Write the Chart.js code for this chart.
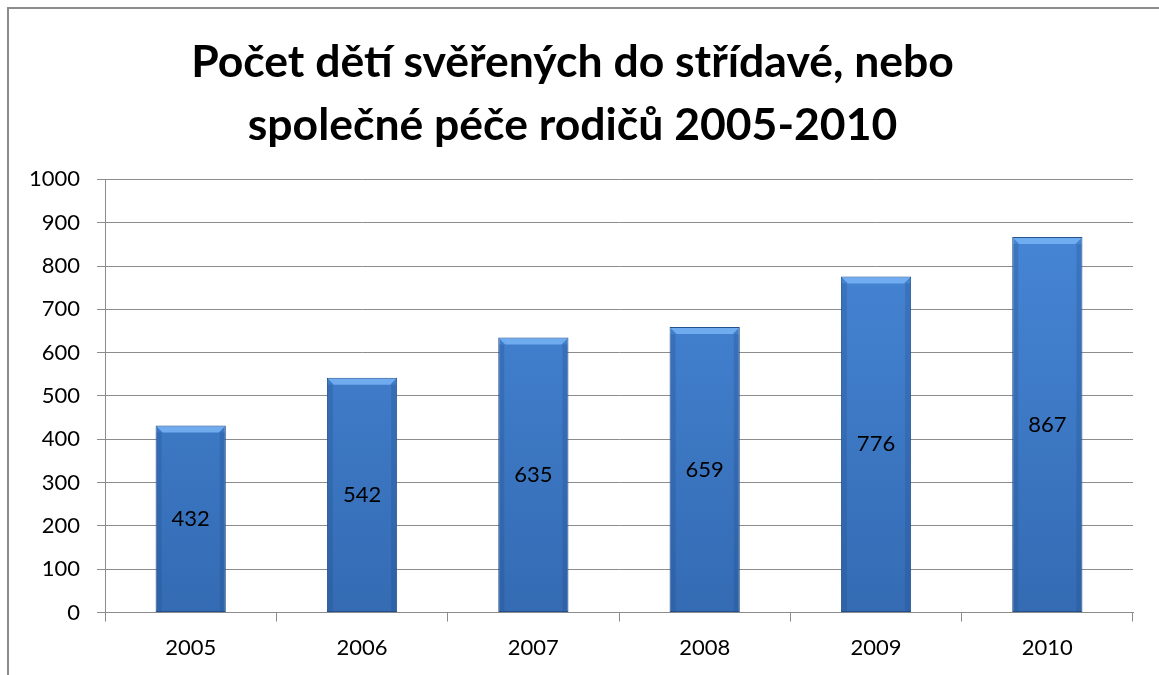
<!DOCTYPE html>
<html>
<head>
<meta charset="utf-8">
<script src="https://cdn.jsdelivr.net/npm/chart.js@4"></script>
<style>
    html, body { margin: 0; padding: 0; background: #fff; }
    #wrap { position: absolute; left: 0; top: 0; width: 1159px; height: 675px; }
    #frame { position: absolute; left: 7px; top: 7px; right: 0; bottom: 0;
             border-left: 2px solid #8c8c8c; border-top: 2px solid #8c8c8c; }
    canvas { position: absolute; left: 0; top: 0; }
</style>
</head>
<body>
<div id="wrap">
    <div id="frame"></div>
    <canvas id="chart" width="1159" height="675"></canvas>
</div>
<script>
// data
var years = ['2005', '2006', '2007', '2008', '2009', '2010'];
var counts = [432, 542, 635, 659, 776, 867];
var titleLines = ['Počet dětí svěřených do střídavé, nebo', 'společné péče rodičů 2005-2010'];

var FONT = 'Lato, "Open Sans", sans-serif';

//数值标签 + 棱角高光
var barDecor = {
    id: 'barDecor',
    afterDatasetsDraw: function (chart) {
        var ctx = chart.ctx;
        var meta = chart.getDatasetMeta(0);
        meta.data.forEach(function (bar, i) {
            var left = bar.x - bar.width / 2, right = bar.x + bar.width / 2;
            var top = bar.y, bottom = bar.base;
            var b = 7;
            ctx.save();
            // top bevel
            ctx.fillStyle = 'rgba(120,180,245,0.85)';
            ctx.beginPath();
            ctx.moveTo(left + 1, top + 1);
            ctx.lineTo(right - 1, top + 1);
            ctx.lineTo(right - b, top + b);
            ctx.lineTo(left + b, top + b);
            ctx.closePath();
            ctx.fill();
            // side edges
            ctx.fillStyle = 'rgba(30,70,130,0.25)';
            ctx.fillRect(left + 1, top + b, 5, bottom - top - b);
            ctx.fillRect(right - 6, top + b, 5, bottom - top - b);
            // value
            ctx.fillStyle = '#000';
            ctx.font = '22px ' + FONT;
            ctx.textAlign = 'center';
            ctx.textBaseline = 'middle';
            ctx.fillText(String(counts[i]), bar.x, (top + bottom) / 2);
            ctx.restore();
        });
    }
};

var ctx = document.getElementById('chart').getContext('2d');

new Chart(ctx, {
    type: 'bar',
    data: {
        labels: years,
        datasets: [{
            data: counts,
            backgroundColor: function (c) {
                var area = c.chart.chartArea;
                if (!area) return '#3f7ccc';
                var g = c.chart.ctx.createLinearGradient(0, area.top, 0, area.bottom);
                g.addColorStop(0, '#4889da');
                g.addColorStop(1, '#346bb3');
                return g;
            },
            borderColor: '#24508c',
            borderWidth: 1,
            borderSkipped: false,
            categoryPercentage: 1,
            barPercentage: 0.41
        }]
    },
    plugins: [barDecor],
    options: {
        responsive: false,
        animation: false,
        layout: { padding: { left: 12, right: 26, top: 17, bottom: 1 } },
        plugins: {
            legend: { display: false },
            tooltip: { enabled: false },
            title: {
                display: true,
                text: titleLines,
                color: '#000',
                font: { family: FONT, size: 44.5, weight: 'bold', lineHeight: 1.42 },
                padding: { top: 14, bottom: 22 }
            }
        },
        scales: {
            x: {
                grid: { drawOnChartArea: false, color: '#8c8c8c', tickLength: 9 },
                border: { color: '#8c8c8c' },
                ticks: { color: '#000', font: { family: FONT, size: 22 }, padding: 13 }
            },
            y: {
                min: 0,
                max: 1000,
                ticks: {
                    stepSize: 100, color: '#000', font: { family: FONT, size: 22 }, padding: 17,
                    callback: function (v) { return String(v); }
                },
                grid: { color: '#8c8c8c', tickLength: 8 },
                border: { color: '#8c8c8c' }
            }
        }
    }
});
</script>
</body>
</html>
